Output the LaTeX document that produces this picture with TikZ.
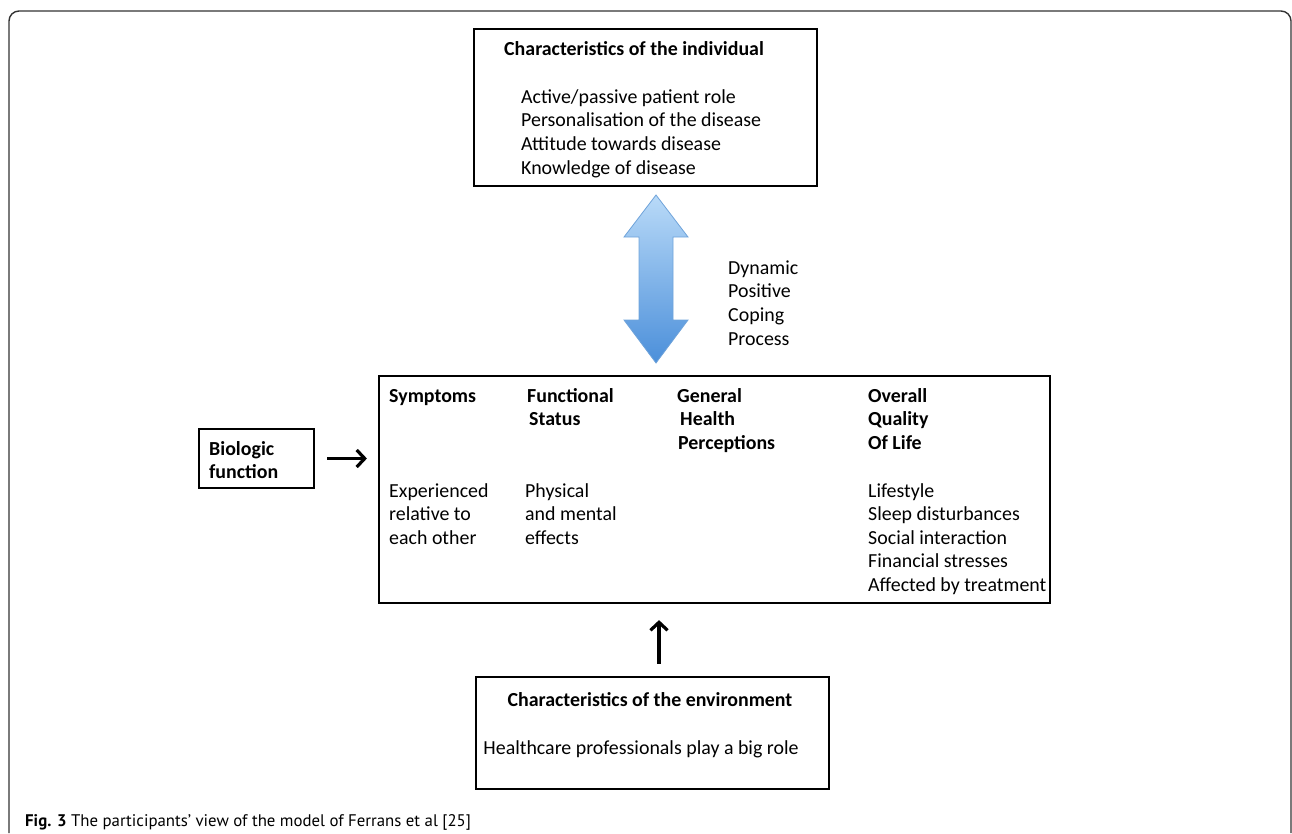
\documentclass[tikz,border=0pt]{standalone}
\usepackage{fontspec}
\setmainfont{Carlito}
\newfontfamily\capfont{PT Sans}
\usetikzlibrary{arrows.meta,positioning,calc}

\definecolor{arrowTop}{HTML}{B9DAF8}
\definecolor{arrowBottom}{HTML}{4B8FDA}
\definecolor{arrowEdge}{HTML}{6FA3DA}
\newcommand\figfont{\fontsize{19.9}{23.6}\selectfont}

\begin{document}
\begin{tikzpicture}[x=1pt,y=-1pt,
				box/.style={draw,line width=2.2pt,rectangle,inner sep=0pt},
				hd/.style={anchor=base west,inner sep=0pt,align=left,font=\figfont\bfseries},
				txt/.style={anchor=base west,inner sep=0pt,align=left,font=\figfont},
				conn/.style={line width=3.2pt,-{Straight Barb[length=8pt,width=17pt]}}]
			\useasboundingbox (0,0) rectangle (1292,833);
			% outer frame, open at the bottom
			\draw[line width=1.4pt,black!80,rounded corners=10pt] (9,833) -- (9,11) -- (1291,11) -- (1291,833);

			% boxes
			\node [box, minimum width=343, minimum height=157] (indiv) at (645.5,107.5) {};
			\node [box, minimum width=671, minimum height=227] (qol) at (714.5,489.5) {};
			\node [box, minimum width=115, minimum height=59] (bio) at (256.5,458.5) {};
			\node [box, minimum width=353, minimum height=112] (env) at (652.5,733) {};

			% characteristics of the individual (base = last line)
			\node [hd] (indivHd) at (504,55) {Characteristics of the individual};
			\node [txt] (indivList) at (521,174) {Active/passive patient role\\Personalisation of the disease\\Attitude towards disease\\Knowledge of disease};

			% coping arrow
			\shade[top color=arrowTop, bottom color=arrowBottom, draw=arrowEdge, line width=0.8pt]
				(656,195) -- (688,237) -- (673,237) -- (673,320) -- (688,320) -- (656,363)
				-- (624,320) -- (639,320) -- (639,237) -- (624,237) -- cycle;
			\node [txt] (coping) at (728,345) {Dynamic\\Positive\\Coping\\Process};

			% columns of the model
			\node [hd] (symptHd) at (389,402) {Symptoms};
			\node [hd] (funcHd) at (527,425.6) {Functional\\\hspace*{2pt}Status};
			\node [hd] (healthHd) at (677,449.2) {General\\\hspace*{3pt}Health\\\hspace*{1pt}Perceptions};
			\node [hd] (overallHd) at (868,449.2) {Overall\\Quality\\Of Life};
			\node [txt] (symptTxt) at (389,544.2) {Experienced\\relative to\\each other};
			\node [txt] (funcTxt) at (525,544.2) {Physical\\and mental\\effects};
			\node [txt] (overallTxt) at (868,591.4) {Lifestyle\\Sleep disturbances\\Social interaction\\Financial stresses\\Affected by treatment};

			% biologic function
			\node [hd] (bioTxt) at (209,478.6) {Biologic\\function};
			\draw [conn, shorten <=12pt, shorten >=11pt] (bio.east) -- (bio.east -| qol.west);

			% characteristics of the environment
			\node [hd, anchor=base] (envHd) at (650,706) {Characteristics of the environment};
			\node [txt, anchor=base] (envTxt) at (641,754) {Healthcare professionals play a big role};
			\draw [conn, shorten <=12pt, shorten >=16pt] ([xshift=6.5pt]env.north) -- ([xshift=6.5pt]env.north |- qol.south);

			% caption
			\node [anchor=base west, inner sep=0pt, font=\capfont\fontsize{16.8}{19}\selectfont] (caption) at (25,826)
				{\textbf{Fig. 3} The participants’ view of the model of Ferrans et al [25]};
		\end{tikzpicture}
\end{document}
